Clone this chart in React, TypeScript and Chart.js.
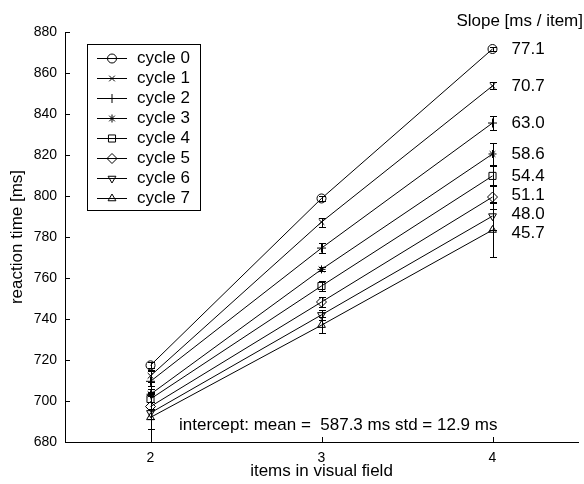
import React, { useEffect, useRef } from 'react';
import { Chart, registerables } from 'chart.js';
import { drawPoint } from 'chart.js/helpers';

Chart.register(...registerables);

const items = [2, 3, 4];
const xTicks = [2, 3, 4];
const yMin = 680;
const yMax = 880;
const yStep = 20;

const seriesNames = ['cycle 0', 'cycle 1', 'cycle 2', 'cycle 3', 'cycle 4', 'cycle 5', 'cycle 6', 'cycle 7'];

const cycle0 = [717.4, 798.8, 871.7];
const cycle1 = [712.3, 787.3, 853.7];
const cycle2 = [709.6, 774.6, 835.6];
const cycle3 = [703.3, 764.2, 820.5];
const cycle4 = [701.0, 756.1, 809.8];
const cycle5 = [697.3, 748.3, 799.5];
const cycle6 = [694.2, 742.0, 790.2];
const cycle7 = [692.0, 737.0, 783.4];

const err0 = [1.5, 1.0, 1.0];
const err1 = [3.0, 2.2, 1.7];
const err2 = [5.0, 2.3, 3.3];
const err3 = [4.0, 1.0, 5.5];
const err4 = [5.0, 2.2, 5.0];
const err5 = [6.0, 2.5, 6.0];
const err6 = [8.0, 2.5, 7.0];
const err7 = [12.0, 4.0, 13.0];

const slopes = [77.1, 70.7, 63.0, 58.6, 54.4, 51.1, 48.0, 45.7];
const interceptMean = 587.3;
const interceptStd = 12.9;

const series = [cycle0, cycle1, cycle2, cycle3, cycle4, cycle5, cycle6, cycle7];
const errors = [err0, err1, err2, err3, err4, err5, err6, err7];

const pointStyles = ['circle', 'crossRot', 'cross', 'star', 'rect', 'rectRot', 'triangle', 'triangle'];
const pointRotations = [0, 0, 0, 0, 0, 0, 180, 0];
const pointRadii = [4.5, 4, 4.5, 4, 5, 5, 4.5, 4.5];

const FONT = "'Liberation Sans', Arial, Helvetica, sans-serif";

function spreadLabels(ys: number[], minGap: number): number[] {
  const out = ys.slice();
  for (let iter = 0; iter < 50; iter++) {
    for (let k = 0; k < out.length - 1; k++) {
      const gap = out[k + 1] - out[k];
      if (gap < minGap) {
        const d = (minGap - gap) / 2;
        out[k] -= d;
        out[k + 1] += d;
      }
    }
  }
  return out;
}

const decorPlugin = {
  id: 'decor',
  beforeDatasetsDraw(chart: any) {
    const ctx = chart.ctx;
    const xs = chart.scales.x;
    const ys = chart.scales.y;
    ctx.save();
    ctx.strokeStyle = '#000';
    ctx.lineWidth = 1;
    series.forEach((vals, i) => {
      vals.forEach((v, j) => {
        const e = errors[i][j];
        const x = Math.round(xs.getPixelForValue(items[j])) + 0.5;
        const y1 = Math.round(ys.getPixelForValue(v - e)) + 0.5;
        const y2 = Math.round(ys.getPixelForValue(v + e)) + 0.5;
        ctx.beginPath();
        ctx.moveTo(x, y1);
        ctx.lineTo(x, y2);
        ctx.moveTo(x - 3.5, y1);
        ctx.lineTo(x + 3.5, y1);
        ctx.moveTo(x - 3.5, y2);
        ctx.lineTo(x + 3.5, y2);
        ctx.stroke();
      });
    });
    ctx.restore();
  },
  afterDraw(chart: any) {
    const ctx = chart.ctx;
    const xs = chart.scales.x;
    const ys = chart.scales.y;
    const area = chart.chartArea;
    ctx.save();
    ctx.strokeStyle = '#000';
    ctx.fillStyle = '#000';
    ctx.lineWidth = 1;
    // inward ticks
    ctx.beginPath();
    for (let v = yMin; v <= yMax; v += yStep) {
      const y = Math.round(ys.getPixelForValue(v)) + 0.5;
      ctx.moveTo(area.left, y);
      ctx.lineTo(area.left + 5, y);
    }
    xTicks.forEach((v) => {
      const x = Math.round(xs.getPixelForValue(v)) + 0.5;
      ctx.moveTo(x, area.bottom);
      ctx.lineTo(x, area.bottom - 5);
    });
    ctx.stroke();

    // legend
    const lx = 87.5, ly = 44.5, lw = 113, lh = 166;
    ctx.fillStyle = '#fff';
    ctx.fillRect(lx, ly, lw, lh);
    ctx.strokeRect(lx, ly, lw, lh);
    ctx.font = `17px ${FONT}`;
    ctx.textBaseline = 'middle';
    ctx.textAlign = 'left';
    seriesNames.forEach((name, i) => {
      const y = 58 + i * 20;
      ctx.strokeStyle = '#000';
      ctx.beginPath();
      ctx.moveTo(97, y + 0.5);
      ctx.lineTo(127, y + 0.5);
      ctx.stroke();
      ctx.fillStyle = 'rgba(0,0,0,0)';
      drawPoint(ctx, { pointStyle: pointStyles[i], rotation: pointRotations[i], radius: pointRadii[i], borderWidth: 1 } as any, 112, y + 0.5);
      ctx.fillStyle = '#000';
      ctx.fillText(name, 137, y);
    });

    // slope labels
    ctx.fillStyle = '#000';
    ctx.font = `17px ${FONT}`;
    ctx.textAlign = 'left';
    const x4 = xs.getPixelForValue(items[items.length - 1]);
    const labelYs = spreadLabels(series.map((vals) => ys.getPixelForValue(vals[vals.length - 1])), 19);
    series.forEach((vals, i) => {
      ctx.fillText(slopes[i].toFixed(1), x4 + 19, labelYs[i]);
    });
    ctx.textAlign = 'right';
    ctx.fillText('Slope [ms / item]', 583, 21);

    ctx.textAlign = 'left';
    ctx.fillText(`intercept: mean =  ${interceptMean.toFixed(1)} ms std = ${interceptStd.toFixed(1)} ms`, 179, 425);
    ctx.restore();
  },
};

export default function App() {
  const ref = useRef<HTMLCanvasElement | null>(null);
  useEffect(() => {
    if (!ref.current) return;
    const chart = new Chart(ref.current, {
      type: 'line',
      data: {
        datasets: series.map((vals, i) => ({
          label: seriesNames[i],
          data: vals.map((v, j) => ({ x: items[j], y: v })),
          borderColor: '#000',
          borderWidth: 1,
          backgroundColor: 'rgba(0,0,0,0)',
          pointBackgroundColor: 'rgba(0,0,0,0)',
          pointBorderColor: '#000',
          pointBorderWidth: 1,
          pointStyle: pointStyles[i] as any,
          pointRotation: pointRotations[i],
          pointRadius: pointRadii[i],
          fill: false,
          tension: 0,
        })),
      },
      options: {
        responsive: false,
        animation: false,
        events: [],
        layout: { padding: { top: 32, right: 0, left: 0, bottom: 0 } },
        plugins: {
          legend: { display: false },
          tooltip: { enabled: false },
          title: { display: false },
        },
        scales: {
          x: {
            type: 'linear',
            min: 1.5,
            max: 4.5,
            grid: { display: false, drawTicks: false },
            border: { display: true, color: '#000', width: 1 },
            afterBuildTicks: (s: any) => {
              s.ticks = xTicks.map((v) => ({ value: v }));
            },
            afterFit: (s: any) => {
              s.height = 42;
            },
            ticks: {
              color: '#000',
              padding: 8,
              font: { family: FONT, size: 14 },
              maxRotation: 0,
              callback: (v: any) => String(v),
            },
            title: {
              display: true,
              text: 'items in visual field',
              color: '#000',
              font: { family: FONT, size: 17 },
              padding: { top: 0, bottom: 2 },
            },
          },
          y: {
            type: 'linear',
            min: yMin,
            max: yMax,
            grid: { display: false, drawTicks: false },
            border: { display: true, color: '#000', width: 1 },
            afterFit: (s: any) => {
              s.width = 65;
            },
            ticks: {
              stepSize: yStep,
              color: '#000',
              padding: 8,
              font: { family: FONT, size: 14 },
            },
            title: {
              display: true,
              text: 'reaction time [ms]',
              color: '#000',
              font: { family: FONT, size: 17 },
              padding: { top: 7, bottom: 0 },
            },
          },
        },
      },
      plugins: [decorPlugin],
    });
    return () => chart.destroy();
  }, []);
  return (
    <div style={{ position: 'absolute', left: 0, top: 0, width: 584, height: 484, background: '#fff' }}>
      <canvas ref={ref} width={584} height={484} />
    </div>
  );
}
